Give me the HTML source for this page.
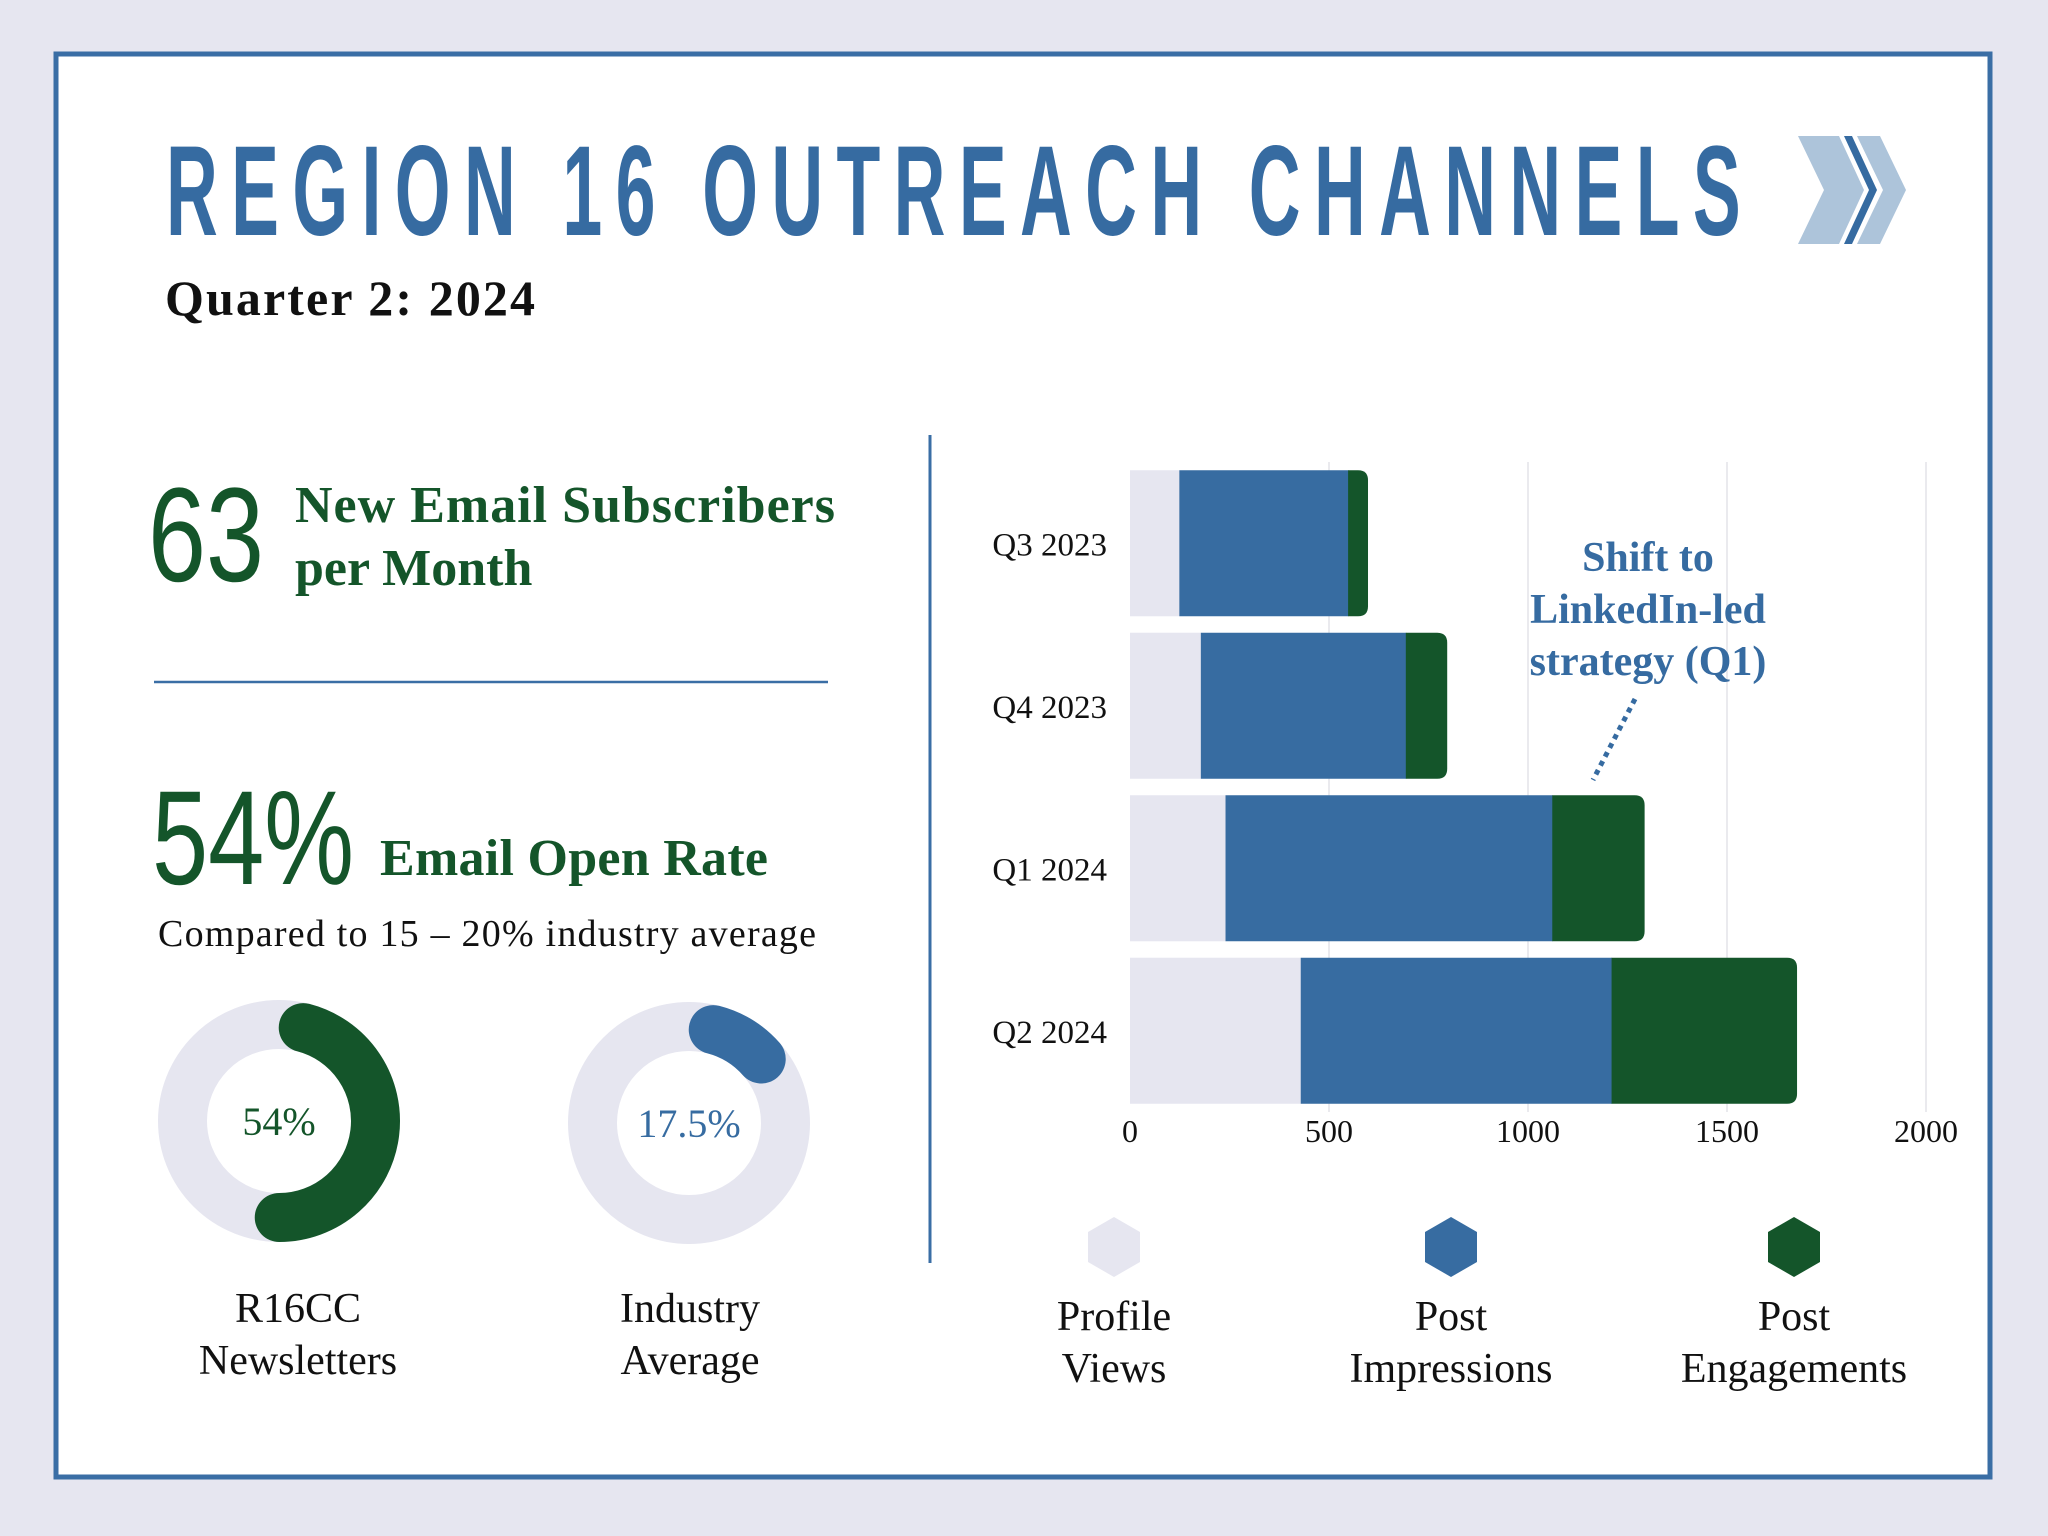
<!DOCTYPE html>
<html><head><meta charset="utf-8"><style>
body{margin:0;width:2048px;height:1536px;background:#e6e6f0;overflow:hidden;font-family:"Liberation Serif",serif}
svg{position:absolute;left:0;top:0}
</style></head><body>
<svg width="2048" height="1536" viewBox="0 0 2048 1536">
<rect x="56" y="54" width="1934" height="1423" fill="#fff" stroke="#3a6ea5" stroke-width="5"/>
<text transform="translate(166,235) scale(0.56,1)" x="0" y="0" font-family="Liberation Sans, sans-serif" font-weight="bold" font-size="128" fill="#366ba1" textLength="2812" lengthAdjust="spacing">REGION 16 OUTREACH CHANNELS</text>
<g>
<polygon points="1798,136 1839,136 1864,190 1839,244 1798,244 1824,190" fill="#adc4da"/>
<polygon points="1844,136 1852,136 1877,190 1852,244 1844,244 1869,190" fill="#366ba1"/>
<polygon points="1857,136 1880,136 1906,190 1880,244 1857,244 1883,190" fill="#adc4da"/>
</g>
<text x="165" y="315" font-size="50" font-weight="bold" fill="#111" textLength="370">Quarter 2: 2024</text>
<line x1="930" y1="435" x2="930" y2="1263" stroke="#3a6ea5" stroke-width="3"/>

<text x="148" y="581" font-family="Liberation Sans, sans-serif" font-size="134" fill="#14552a" textLength="116" lengthAdjust="spacingAndGlyphs">63</text>
<text x="295" y="522" font-size="52" font-weight="bold" fill="#14552a" textLength="540">New Email Subscribers</text>
<text x="295" y="585" font-size="52" font-weight="bold" fill="#14552a">per Month</text>
<line x1="154" y1="682" x2="828" y2="682" stroke="#3a6ea5" stroke-width="2.5"/>
<text x="152" y="884" font-family="Liberation Sans, sans-serif" font-size="134" fill="#14552a" textLength="202" lengthAdjust="spacingAndGlyphs">54%</text>
<text x="380" y="875" font-size="52" font-weight="bold" fill="#14552a" textLength="388">Email Open Rate</text>
<text x="158" y="946" font-size="38" fill="#111" textLength="658">Compared to 15 – 20% industry average</text>

<g id="donuts"></g>
<text x="298" y="1322" font-size="42" fill="#111" text-anchor="middle">R16CC</text>
<text x="298" y="1374" font-size="42" fill="#111" text-anchor="middle">Newsletters</text>
<text x="690" y="1322" font-size="42" fill="#111" text-anchor="middle">Industry</text>
<text x="690" y="1374" font-size="42" fill="#111" text-anchor="middle">Average</text>

<g id="chart"></g>
<g fill="#366ba1" font-size="42" font-weight="bold" text-anchor="middle">
<text x="1648" y="571">Shift to</text>
<text x="1648" y="623">LinkedIn-led</text>
<text x="1648" y="675">strategy (Q1)</text>
<line x1="1635" y1="699" x2="1593" y2="780" stroke="#366ba1" stroke-width="5" stroke-dasharray="5,5"/>
</g>
<g id="legend"></g>
</svg>
<script>
const categories=["Q3 2023","Q4 2023","Q1 2024","Q2 2024"];
const profileViews=[124,178,240,429];
const postImpressions=[424,515,821,781];
const postEngagements=[50,104,232,466];
const ticks=[0,500,1000,1500,2000];
const seriesNames=["Profile Views","Post Impressions","Post Engagements"];
const seriesColors=["#e6e6f0","#376ca1","#14552a"];
const donutValues=[54,17.5];
const donutLabels=["54%","17.5%"];
const NS="http://www.w3.org/2000/svg";
function mk(tag,attrs,parent){const e=document.createElementNS(NS,tag);for(const k in attrs)e.setAttribute(k,attrs[k]);parent.appendChild(e);return e;}
const chart=document.getElementById('chart');
const x0=1130,x1=1926,vmax=2000,plotTop=462,bandH=162.5,barH=146;
const xs=v=>x0+(x1-x0)*v/vmax;
ticks.forEach(t=>{
  if(t>0){const g=mk('line',{x1:xs(t),x2:xs(t),y1:plotTop,y2:plotTop+4*bandH,stroke:'#e4e4e8','stroke-width':1.5},chart);
  
  }
  const l=mk('text',{x:xs(t),y:1142,'font-size':32,'text-anchor':'middle',fill:'#111'},chart);
  
  
  l.textContent=t;
});
const series=[profileViews,postImpressions,postEngagements];
categories.forEach((c,i)=>{
  const y=plotTop+i*bandH+(bandH-barH)/2;
  let acc=0;
  series.forEach((s,j)=>{
    const a=xs(acc),b=xs(acc+s[i]);acc+=s[i];
    let el;
    if(j===2){const r=10;
      el=mk('path',{d:`M${a},${y}H${b-r}Q${b},${y} ${b},${y+r}V${y+barH-r}Q${b},${y+barH} ${b-r},${y+barH}H${a}Z`,fill:seriesColors[j]},chart);
    } else el=mk('rect',{x:a,y:y,width:b-a+0.5,height:barH,fill:seriesColors[j]},chart);
    
    
  });
  const t=mk('text',{x:1107,y:y+barH/2+12,'font-size':33,'text-anchor':'end',fill:'#111'},chart);
  
  
  t.textContent=c;
});
const lg=document.getElementById('legend');
const lx=[1114,1451,1794];
seriesNames.forEach((n,i)=>{
  const cx=lx[i],cy=1247,r=30;let pts=[];
  for(let k=0;k<6;k++){const a=Math.PI/3*k+Math.PI/6;pts.push((cx+r*Math.cos(a)).toFixed(1)+','+(cy+r*Math.sin(a)).toFixed(1));}
  const h=mk('polygon',{points:pts.join(' '),fill:seriesColors[i]},lg);
  
  
  const w=n.split(' ');
  w.forEach((s,k)=>{const t=mk('text',{x:cx,y:1330+k*52,'font-size':42,'text-anchor':'middle',fill:'#111'},lg);
  
  
  t.textContent=s;});
});
const dg=document.getElementById('donuts');
const dc=[[279,1121,'#14552a'],[689,1123,'#376ca1']];
donutValues.forEach((v,i)=>{
  const [cx,cy,col]=dc[i];const r=96.5,cap=24.5/96.5;
  const bg=mk('circle',{cx,cy,r,fill:'none',stroke:'#e6e6f0','stroke-width':49},dg);
  
  
  const ang=v/100*2*Math.PI;
  const a0=cap,a1=ang-cap;
  const sx=cx+r*Math.sin(a0),sy=cy-r*Math.cos(a0),ex=cx+r*Math.sin(a1),ey=cy-r*Math.cos(a1);
  const arc=mk('path',{d:`M${sx},${sy}A${r},${r} 0 ${(a1-a0)>Math.PI?1:0} 1 ${ex},${ey}`,fill:'none',stroke:col,'stroke-width':49,'stroke-linecap':'round'},dg);
  
  
  const t=mk('text',{x:cx,y:cy+14,'font-size':40,'text-anchor':'middle',fill:col},dg);
  
  
  t.textContent=donutLabels[i];
});
</script>
</body></html>
